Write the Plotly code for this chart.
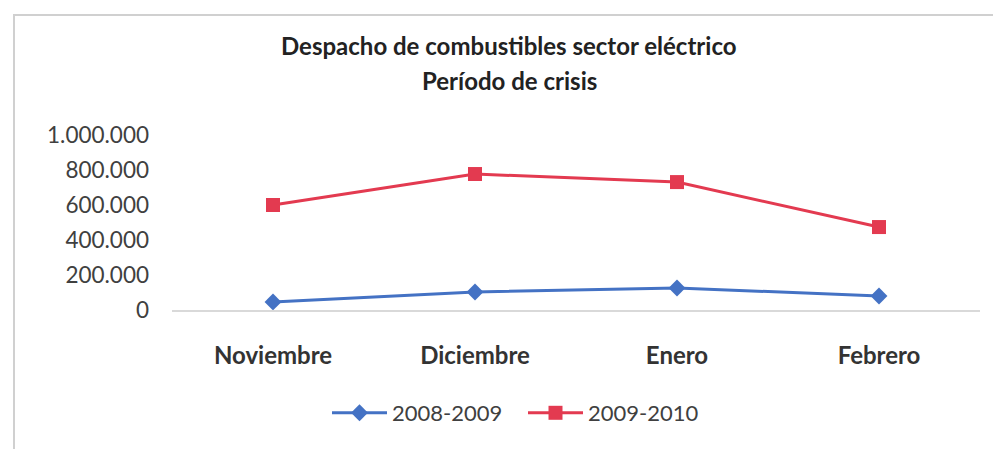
import plotly.graph_objects as go

meses = ["Noviembre", "Diciembre", "Enero", "Febrero"]
serie_2008_2009 = [46000, 103000, 126000, 80000]
serie_2009_2010 = [600000, 777000, 731000, 474000]
y_ticks = [0, 200000, 400000, 600000, 800000, 1000000]
y_tick_labels = ["0", "200.000", "400.000", "600.000", "800.000", "1.000.000"]
titulo = ["Despacho de combustibles sector eléctrico", "Período de crisis"]

FONT = "Lato"
W, H = 993, 441          # page body has 8px margin
L, R, T, B = 164, 21, 127, 139
PW, PH = W - L - R, H - T - B


def px(page_x):
    return (page_x - 8 - L) / PW


def py(page_y):
    return (H - B - (page_y - 8)) / PH


fig = go.Figure()
fig.add_trace(go.Scatter(
    x=meses, y=serie_2008_2009, name="2008-2009", mode="lines+markers",
    line=dict(color="#4472C4", width=3),
    marker=dict(symbol="diamond", size=13, color="#4472C4"),
))
fig.add_trace(go.Scatter(
    x=meses, y=serie_2009_2010, name="2009-2010", mode="lines+markers",
    line=dict(color="#E33A50", width=3),
    marker=dict(symbol="square", size=14, color="#E33A50"),
))

fig.update_layout(
    width=W, height=H,
    margin=dict(l=L, r=R, t=T, b=B, autoexpand=False),
    paper_bgcolor="white", plot_bgcolor="white",
    font=dict(family=FONT, color="#404040", size=20),
    showlegend=True,
    legend=dict(orientation="h", xref="container", yref="container",
                x=(523 - 8) / W, xanchor="center", y=1 - (413 - 8) / H, yanchor="middle",
                font=dict(size=22, color="#404040"), itemwidth=55, traceorder="normal",
                entrywidth=126),
)
for txt, yy in zip(titulo, [45, 80]):
    fig.add_annotation(text=txt, xref="paper", yref="paper", x=px(509), y=py(yy),
                       xanchor="center", yanchor="middle", showarrow=False,
                       font=dict(size=24, color="#222222", family=FONT, weight="bold"))
fig.update_xaxes(
    type="category", showgrid=False, showline=True, linecolor="#d9d9d9", linewidth=2,
    ticks="", tickfont=dict(size=24, color="#333333", weight="bold"),
    ticklabelstandoff=23, range=[-0.5, 3.5], automargin=False,
)
fig.update_yaxes(
    range=[0, 1000000], tickvals=y_ticks, ticktext=y_tick_labels,
    showgrid=False, showline=False, zeroline=False, ticks="",
    tickfont=dict(size=22.5, color="#404040"), ticklabelstandoff=22, automargin=False,
)
fig.add_shape(type="rect", xref="paper", yref="paper",
              x0=px(14), x1=px(995), y0=py(470), y1=py(15),
              line=dict(color="#d0d0d0", width=2), layer="below")
fig.write_html("out.html")
